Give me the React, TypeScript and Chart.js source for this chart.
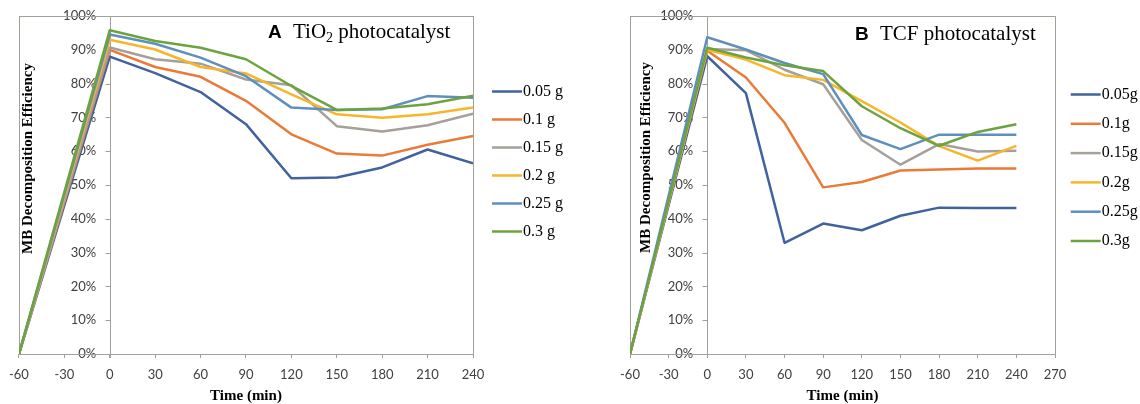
import React, { useEffect, useRef } from 'react';
import { Chart, registerables } from 'chart.js';

Chart.register(...registerables);

// ---------- data ----------
const times = [-60, 0, 30, 60, 90, 120, 150, 180, 210, 240];

const labelsA = ['0.05 g', '0.1 g', '0.15 g', '0.2 g', '0.25 g', '0.3 g'];
const labelsB = ['0.05g', '0.1g', '0.15g', '0.2g', '0.25g', '0.3g'];

// Panel A: TiO2 photocatalyst (% MB decomposition)
const tio2_005 = [0, 88.0, 83.1, 77.5, 68.0, 52.0, 52.2, 55.2, 60.5, 56.4];
const tio2_010 = [0, 90.0, 84.9, 82.0, 74.9, 65.0, 59.3, 58.7, 61.9, 64.5];
const tio2_015 = [0, 90.7, 87.2, 85.9, 81.2, 79.5, 67.4, 65.8, 67.7, 71.1];
const tio2_020 = [0, 93.0, 90.1, 84.9, 83.0, 76.8, 70.9, 69.9, 70.9, 72.9];
const tio2_025 = [0, 94.5, 91.8, 87.7, 82.2, 72.9, 72.2, 72.4, 76.3, 75.8];
const tio2_030 = [0, 95.8, 92.6, 90.6, 87.2, 79.3, 72.2, 72.6, 73.9, 76.4];

// Panel B: TCF photocatalyst
const tcf_005 = [0, 88.1, 77.2, 32.9, 38.6, 36.6, 40.9, 43.3, 43.2, 43.2];
const tcf_010 = [0, 89.7, 81.8, 68.4, 49.3, 50.9, 54.3, 54.6, 54.9, 54.9];
const tcf_015 = [0, 90.2, 89.9, 84.1, 79.8, 63.3, 56.0, 62.1, 59.9, 60.1];
const tcf_020 = [0, 90.0, 87.1, 82.5, 81.1, 74.8, 68.5, 61.5, 57.2, 61.6];
const tcf_025 = [0, 93.7, 90.1, 86.1, 82.8, 64.8, 60.6, 64.9, 64.9, 64.9];
const tcf_030 = [0, 90.6, 87.7, 85.4, 83.7, 73.3, 66.8, 61.6, 65.7, 68.0];

const xTickStep = 30;
const yTickStep = 10;

// ---------- styles ----------
const COLORS = ['#41629f', '#e97a37', '#a5a09a', '#f6b62a', '#5f90bd', '#6ca33f'];
const AXIS = '#a39f99';
const SERIF = '"Liberation Serif", "Times New Roman", serif';
const SANS = 'Lato, "Liberation Sans", sans-serif';
const TICK_COLOR = '#404040';

const decorPlugin = {
  id: 'decor',
  beforeDatasetsDraw(chart: any) {
    const { ctx, chartArea: a, scales } = chart;
    ctx.save();
    ctx.strokeStyle = AXIS;
    ctx.lineWidth = 1;
    ctx.strokeRect(
      Math.round(a.left) + 0.5,
      Math.round(a.top) + 0.5,
      Math.round(a.right) - Math.round(a.left),
      Math.round(a.bottom) - Math.round(a.top)
    );
    // vertical axis line at time 0, with outward tick marks
    const x0 = Math.round(scales.x.getPixelForValue(0)) + 0.5;
    ctx.beginPath();
    ctx.moveTo(x0, a.top);
    ctx.lineTo(x0, a.bottom + 4);
    for (const t of scales.y.ticks) {
      const y = Math.round(scales.y.getPixelForValue(t.value)) + 0.5;
      ctx.moveTo(x0 - 5, y);
      ctx.lineTo(x0, y);
    }
    ctx.stroke();
    ctx.restore();
  },
  afterDraw(chart: any, _args: any, opts: any) {
    const { ctx } = chart;
    ctx.save();
    // y axis title
    ctx.translate(opts.yTitleX, opts.yTitleY);
    ctx.rotate(-Math.PI / 2);
    ctx.fillStyle = '#000';
    ctx.font = `bold 15px ${SERIF}`;
    ctx.textAlign = 'center';
    ctx.textBaseline = 'middle';
    ctx.fillText('MB Decomposition Efficiency', 0, 0);
    ctx.restore();

    // panel title
    ctx.save();
    ctx.fillStyle = '#000';
    ctx.textBaseline = 'alphabetic';
    ctx.textAlign = 'left';
    ctx.font = 'bold 19px "Liberation Sans", Arial, sans-serif';
    ctx.fillText(opts.letter, opts.letterX, opts.baseY);
    let x = opts.textX;
    for (const p of opts.parts) {
      ctx.font = p.sub ? `14px ${SERIF}` : `21px ${SERIF}`;
      const y = p.sub ? opts.baseY + 4 : opts.baseY;
      ctx.fillText(p.t, x, y);
      x += ctx.measureText(p.t).width;
    }
    ctx.restore();

    // legend
    ctx.save();
    chart.data.datasets.forEach((ds: any, i: number) => {
      const y = opts.legendY + i * opts.legendStep;
      ctx.strokeStyle = ds.borderColor;
      ctx.lineWidth = 2.5;
      ctx.beginPath();
      ctx.moveTo(opts.legendX, y);
      ctx.lineTo(opts.legendX + 30, y);
      ctx.stroke();
      ctx.fillStyle = '#000';
      ctx.font = `16px ${SERIF}`;
      ctx.textBaseline = 'middle';
      ctx.textAlign = 'left';
      ctx.fillText(ds.label, opts.legendX + 31, y);
    });
    ctx.restore();
  },
};

function buildConfig(p: any): any {
  return {
    type: 'line',
    data: {
      datasets: p.series.map((vals: number[], i: number) => ({
        label: p.labels[i],
        data: times.map((t, j) => ({ x: t, y: vals[j] })),
        borderColor: COLORS[i],
        backgroundColor: COLORS[i],
        borderWidth: 2.5,
        pointRadius: 0,
        tension: 0,
        fill: false,
        borderJoinStyle: 'round',
        order: 5 - i,
      })),
    },
    options: {
      responsive: false,
      animation: false,
      events: [],
      layout: { padding: p.padding },
      plugins: {
        legend: { display: false },
        tooltip: { enabled: false },
        decor: p.decor,
      },
      scales: {
        x: {
          type: 'linear',
          position: 'bottom',
          min: -60,
          max: p.xMax,
          ticks: {
            stepSize: xTickStep,
            autoSkip: false,
            maxRotation: 0,
            font: { family: SANS, size: 13 },
            color: TICK_COLOR,
            padding: 9,
          },
          grid: {
            display: true,
            drawOnChartArea: false,
            drawTicks: true,
            tickLength: 4,
            color: AXIS,
            lineWidth: 1,
          },
          border: { display: true, color: AXIS, width: 1 },
          title: {
            display: true,
            text: 'Time (min)',
            color: '#000',
            font: { family: SERIF, size: 15, weight: 'bold', lineHeight: 1 },
            padding: 0,
          },
          afterFit: (s: any) => {
            s.height = 50;
          },
        },
        y: {
          type: 'linear',
          // labels are anchored a little left of the time-0 axis line
          position: { x: p.yLabelAt },
          min: 0,
          max: 100,
          ticks: {
            stepSize: yTickStep,
            callback: (v: any) => v + '%',
            font: { family: SANS, size: 13 },
            color: TICK_COLOR,
          },
          grid: { display: false },
          border: { display: false },
        },
      },
    },
    plugins: [decorPlugin],
  };
}

const panelA = {
  series: [tio2_005, tio2_010, tio2_015, tio2_020, tio2_025, tio2_030],
  labels: labelsA,
  xMax: 240,
  yLabelAt: -9.0,
  padding: { left: 14, top: 16, right: 97, bottom: 0 },
  decor: {
    yTitleX: 28,
    yTitleY: 158.5,
    letter: 'A',
    letterX: 268,
    textX: 293,
    baseY: 37.5,
    parts: [{ t: 'TiO' }, { t: '2', sub: true }, { t: ' photocatalyst' }],
    legendX: 492,
    legendY: 91.5,
    legendStep: 28,
  },
};

const panelB = {
  series: [tcf_005, tcf_010, tcf_015, tcf_020, tcf_025, tcf_030],
  labels: labelsB,
  xMax: 270,
  yLabelAt: -10.9,
  padding: { left: 60, top: 16, right: 85, bottom: 0 },
  decor: {
    yTitleX: 75.7,
    yTitleY: 157.5,
    letter: 'B',
    letterX: 285,
    textX: 310,
    baseY: 39.5,
    parts: [{ t: 'TCF photocatalyst' }],
    legendX: 500.7,
    legendY: 94.5,
    legendStep: 29.3,
  },
};

function Panel({ cfg, left }: { cfg: any; left: number }) {
  const ref = useRef<HTMLCanvasElement>(null);
  useEffect(() => {
    const chart = new Chart(ref.current as HTMLCanvasElement, buildConfig(cfg));
    return () => chart.destroy();
  }, [cfg]);
  return (
    <div style={{ position: 'absolute', left, top: 0, width: 570, height: 404 }}>
      <canvas ref={ref} width={570} height={404} style={{ display: 'block', width: 570, height: 404 }} />
    </div>
  );
}

export default function App() {
  return (
    <div style={{ position: 'fixed', left: 0, top: 0, width: 1140, height: 404, background: '#fff', overflow: 'hidden' }}>
      <Panel cfg={panelA} left={0} />
      <Panel cfg={panelB} left={570} />
    </div>
  );
}
